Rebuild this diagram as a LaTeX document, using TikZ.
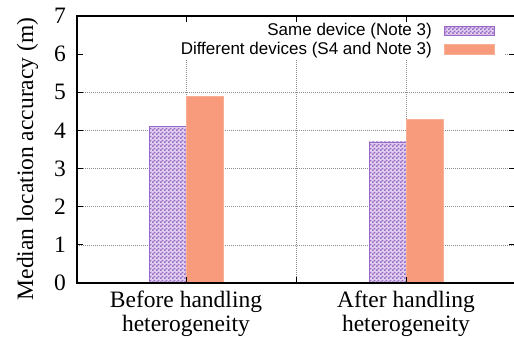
\documentclass[tikz,border=0pt]{standalone}
\usepackage{fontspec}
\setmainfont{Liberation Serif}
\setsansfont{Liberation Sans}
\usepackage{tikz}
\usetikzlibrary{patterns}
\definecolor{Lavender}{HTML}{9A68C8}
\definecolor{Salmon}{HTML}{F89A7C}
\definecolor{GridGrey}{HTML}{8C8C8C}
\pgfdeclarepatternformonly{finechecker}{\pgfqpoint{0pt}{0pt}}{\pgfqpoint{4pt}{4pt}}{\pgfqpoint{4pt}{4pt}}{%
    \pgfpathrectangle{\pgfqpoint{0pt}{0pt}}{\pgfqpoint{2pt}{2pt}}%
    \pgfpathrectangle{\pgfqpoint{2pt}{2pt}}{\pgfqpoint{2pt}{2pt}}%
    \pgfusepath{fill}}
\tikzset{
    every node/.style={font=\fontsize{23.5}{24}\selectfont, inner sep=0pt},
    axisline/.style={
        draw=black, line width=1.3pt
    },
    tickline/.style={
        draw=black, line width=1pt
    },
    gridline/.style={
        draw=GridGrey, line width=0.8pt, dash pattern=on 1pt off 1pt
    },
    samebar/.style={
        preaction={fill=Lavender!30},
        pattern=finechecker, pattern color=Lavender,
        draw=Lavender, line width=0.8pt
    },
    diffbar/.style={
        fill=Salmon, draw=Salmon!80, line width=0.6pt
    },
    ticklabel/.style={
        anchor=east
    },
    keylabel/.style={
        anchor=east, font=\sffamily\fontsize{17}{18}\selectfont
    },
}

\begin{document}
\begin{tikzpicture}[x=1pt, y=-1pt]
    \useasboundingbox (0,0) rectangle (514,338);

    % Grid (behind everything)
    \draw[gridline] (77,244.9) -- (515,244.9);
    \draw[gridline] (77,206.7) -- (515,206.7);
    \draw[gridline] (77,168.6) -- (515,168.6);
    \draw[gridline] (77,130.4) -- (515,130.4);
    \draw[gridline] (77,92.3) -- (515,92.3);
    \draw[gridline] (77,54.1) -- (515,54.1);
    \draw[gridline] (186,16) -- (186,283);
    \draw[gridline] (296,16) -- (296,283);
    \draw[gridline] (406,16) -- (406,283);

    % Key box covers the grid
    \fill[white] (78,17) rectangle (505,59);

    % Bars -- before handling heterogeneity
    \draw[samebar] (149,283) rectangle (186,126.6);
    \draw[diffbar] (186,283) rectangle (223,96.1);

    % Bars -- after handling heterogeneity
    \draw[samebar] (369,283) rectangle (406,141.9);
    \draw[diffbar] (406,283) rectangle (443,119.0);

    % Frame
    \draw[axisline] (515,16) -- (77,16) -- (77,283) -- (515,283);

    % Tics on y
    \draw[tickline] (77,244.9) -- (83,244.9) (509,244.9) -- (515,244.9);
    \draw[tickline] (77,206.7) -- (83,206.7) (509,206.7) -- (515,206.7);
    \draw[tickline] (77,168.6) -- (83,168.6) (509,168.6) -- (515,168.6);
    \draw[tickline] (77,130.4) -- (83,130.4) (509,130.4) -- (515,130.4);
    \draw[tickline] (77,92.3) -- (83,92.3) (509,92.3) -- (515,92.3);
    \draw[tickline] (77,54.1) -- (83,54.1) (509,54.1) -- (515,54.1);

    % Tics on x
    \draw[tickline] (186,283) -- (186,277) (186,16) -- (186,22);
    \draw[tickline] (296,283) -- (296,277) (296,16) -- (296,22);
    \draw[tickline] (406,283) -- (406,277) (406,16) -- (406,22);

    % Tic labels
    \node[ticklabel] (y0) at (66,283) {0};
    \node[ticklabel] (y1) at (66,244.9) {1};
    \node[ticklabel] (y2) at (66,206.7) {2};
    \node[ticklabel] (y3) at (66,168.6) {3};
    \node[ticklabel] (y4) at (66,130.4) {4};
    \node[ticklabel] (y5) at (66,92.3) {5};
    \node[ticklabel] (y6) at (66,54.1) {6};
    \node[ticklabel] (y7) at (66,16) {7};

    \node[anchor=base, align=center] (before) at (186,331.7) {Before handling\\heterogeneity};
    \node[anchor=base, align=center] (after) at (406,331.7) {After handling\\heterogeneity};

    % Axis title
    \node[anchor=base, rotate=90] (ytitle) at (33,159) {Median location accuracy (m)};

    % Key
    \node[keylabel] (samekey) at (432,31) {Same device (Note 3)};
    \node[keylabel] (diffkey) at (432,50) {Different devices (S4 and Note 3)};
    \draw[samebar] (444,26) rectangle (494,35);
    \draw[diffbar] (444,44) rectangle (494,54);
\end{tikzpicture}
\end{document}
